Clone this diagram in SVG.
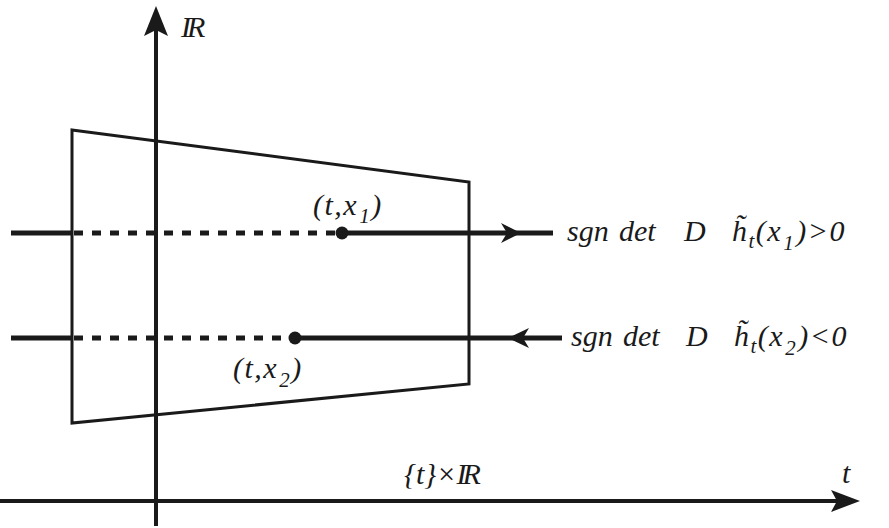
<svg xmlns="http://www.w3.org/2000/svg" width="889" height="528" viewBox="0 0 889 528">
<style>
  .ax{stroke:#1a1a1a;stroke-width:4;fill:none}
  .trap{stroke:#1a1a1a;stroke-width:3;fill:none}
  .thick{stroke:#1a1a1a;stroke-width:5;fill:none}
  .dash{stroke:#1a1a1a;stroke-width:5;fill:none;stroke-dasharray:9 9}
  .head{fill:#1a1a1a}
  text{font-family:'Liberation Serif','DejaVu Serif',serif;font-style:italic;font-size:30px;fill:#1a1a1a}
  .s{font-size:21px}
  .w{letter-spacing:1.5px}
</style>
<g id="axes">
  <line class="ax" x1="156" y1="526" x2="156" y2="28"/>
  <path class="head" d="M156,6 L168,36 L156,30 L144,36 Z"/>
  <line class="ax" x1="0" y1="501" x2="838" y2="501"/>
  <path class="head" d="M860,501 L831,490 L837,501 L831,512 Z"/>
</g>
<g id="region">
  <polygon class="trap" points="72,130 469,182 469,384 72,423"/>
</g>
<g id="connectors">
  <line class="thick" x1="11" y1="233" x2="73" y2="233"/>
  <line class="dash" x1="74" y1="233" x2="338" y2="233"/>
  <line class="thick" x1="342" y1="233" x2="553" y2="233"/>
  <path class="head" d="M521,233 L501,223 L507,233 L501,243 Z"/>
  <line class="thick" x1="11" y1="338" x2="73" y2="338"/>
  <line class="dash" x1="74" y1="338" x2="290" y2="338"/>
  <line class="thick" x1="295" y1="338" x2="562" y2="338"/>
  <path class="head" d="M508,338 L529,328 L523,338 L529,348 Z"/>
</g>
<g id="point1">
  <circle cx="342" cy="233" r="6.5" fill="#1a1a1a"/>
  <text class="w" x="313" y="215">(t,x<tspan class="s" dy="8" dx="1">1</tspan><tspan dy="-8">)</tspan></text>
</g>
<g id="point2">
  <circle cx="295" cy="338" r="6.5" fill="#1a1a1a"/>
  <text class="w" x="233" y="378">(t,x<tspan class="s" dy="9" dx="1">2</tspan><tspan dy="-9">)</tspan></text>
</g>
<g id="label1">
  <text x="567" y="241">sgn</text>
  <text x="619" y="241">det</text>
  <text x="684" y="241">D</text>
  <text class="w" x="732" y="241">h&#x303;<tspan class="s" dy="7">t</tspan><tspan dy="-7">(x</tspan><tspan class="s" dy="9" dx="1">1</tspan><tspan dy="-9" dx="1">)&gt;0</tspan></text>
</g>
<g id="label2">
  <text x="571" y="346">sgn</text>
  <text x="623" y="346">det</text>
  <text x="686" y="346">D</text>
  <text class="w" x="734" y="346">h&#x303;<tspan class="s" dy="7">t</tspan><tspan dy="-7">(x</tspan><tspan class="s" dy="9" dx="1">2</tspan><tspan dy="-9" dx="1">)&lt;0</tspan></text>
</g>
<g id="labelR">
  <text x="181" y="37"><tspan letter-spacing="-4">I</tspan>R</text>
</g>
<g id="labelT">
  <text x="842" y="483">t</text>
</g>
<g id="labelFiber">
  <text x="404" y="484">{t}×<tspan letter-spacing="-4">I</tspan>R</text>
</g>
</svg>
